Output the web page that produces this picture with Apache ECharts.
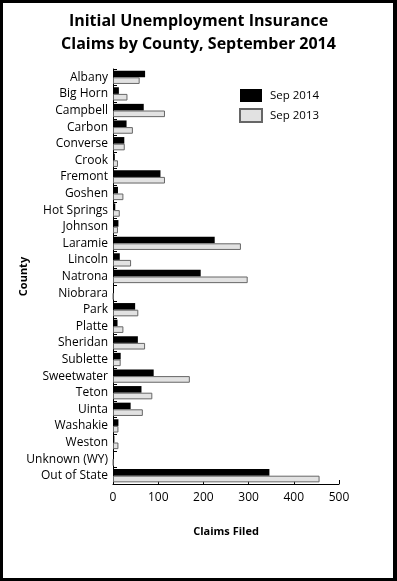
<!DOCTYPE html>
<html>
<head>
<meta charset="utf-8">
<script src="https://cdn.jsdelivr.net/npm/echarts@6/dist/echarts.min.js"></script>
<style>
html,body{margin:0;padding:0;background:#fff;}
#chart{position:absolute;left:0;top:0;width:397px;height:581px;}
#frame{position:absolute;left:0;top:0;width:397px;height:581px;box-sizing:border-box;border-left:3px solid #000;border-top:3px solid #000;border-right:4px solid #000;border-bottom:3px solid #000;pointer-events:none;}
</style>
</head>
<body>
<div id="chart"></div>
<div id="frame"></div>
<script>
const categories = ["Albany","Big Horn","Campbell","Carbon","Converse","Crook","Fremont","Goshen","Hot Springs","Johnson","Laramie","Lincoln","Natrona","Niobrara","Park","Platte","Sheridan","Sublette","Sweetwater","Teton","Uinta","Washakie","Weston","Unknown (WY)","Out of State"];
const sep2014 = [71,13,68,30,25,4,105,11,5,12,225,15,194,2,49,10,55,17,90,63,39,12,3,0,346];
const sep2013 = [59,32,115,44,26,11,115,23,15,11,283,40,298,1,56,23,71,17,170,87,66,12,12,1,457];
const xTicks = [0,100,200,300,400,500];

const font = "'Open Sans', sans-serif";
const chart = echarts.init(document.getElementById('chart'));
chart.setOption({
  animation:false,
  backgroundColor:'#fff',
  title:{
    text:'Initial Unemployment Insurance\nClaims by County, September 2014',
    left:'center', top:5,
    textStyle:{fontFamily:font,fontWeight:'bold',fontSize:16,lineHeight:23,color:'#000'}
  },
  legend:{
    left:239, top:89, orient:'vertical', padding:0,
    icon:'rect',
    itemWidth:22, itemHeight:13, itemGap:6,
    textStyle:{fontFamily:font,fontSize:11.5,color:'#000',padding:[0,0,0,3]},
    data:['Sep 2014','Sep 2013']
  },
  grid:{left:113, top:69, width:226, height:415, containLabel:false, outerBoundsMode:'none'},
  xAxis:{
    type:'value', min:xTicks[0], max:xTicks[xTicks.length-1], interval:100,
    name:'Claims Filed', nameLocation:'middle', nameGap:42, nameMoveOverlap:false,
    nameTextStyle:{fontFamily:font,fontWeight:'bold',fontSize:11,color:'#000'},
    axisLine:{show:true,lineStyle:{color:'#000',width:1}},
    axisTick:{show:true,inside:true,length:4,lineStyle:{color:'#000'}},
    axisLabel:{fontFamily:font,fontSize:12,color:'#000',margin:8},
    splitLine:{show:false}
  },
  yAxis:{
    type:'category', data:categories, inverse:true,
    name:'County', nameLocation:'middle', nameGap:84, nameRotate:90, nameMoveOverlap:false,
    nameTextStyle:{fontFamily:font,fontWeight:'bold',fontSize:11,color:'#000'},
    axisLine:{show:true,lineStyle:{color:'#000',width:1}},
    axisTick:{show:true,inside:true,length:4,lineStyle:{color:'#000'}},
    axisLabel:{fontFamily:font,fontSize:12,color:'#000',margin:5,interval:0},
    splitLine:{show:false}
  },
  series:[
    {name:'Sep 2014',type:'bar',data:sep2014,barGap:'0%',barCategoryGap:'20%',
     itemStyle:{color:'#000',borderColor:'#000',borderWidth:0}},
    {name:'Sep 2013',type:'bar',data:sep2013,barGap:'0%',barCategoryGap:'20%',
     itemStyle:{color:'#e2e2e2',borderColor:'#666',borderWidth:1}}
  ]
});
</script>
</body>
</html>
